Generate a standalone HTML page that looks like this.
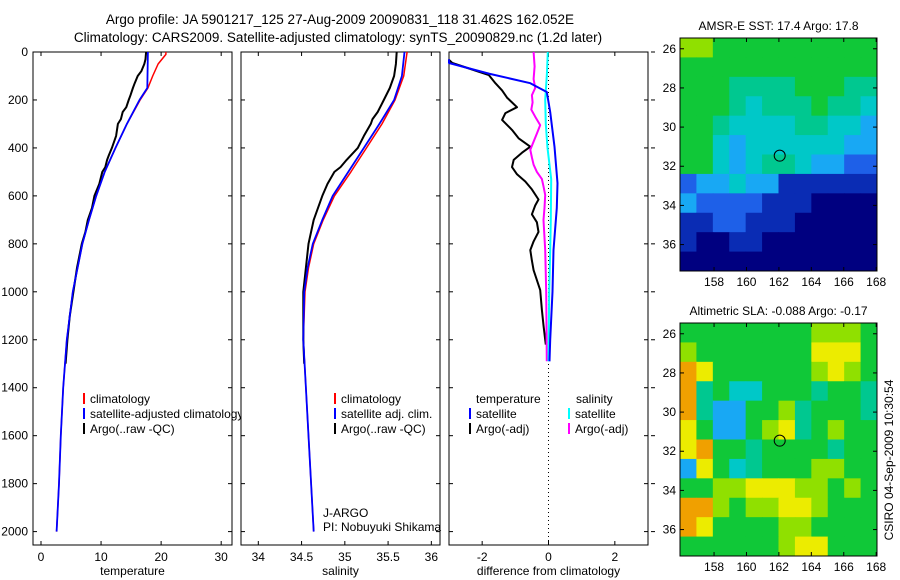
<!DOCTYPE html>
<html><head><meta charset="utf-8"><style>
body{margin:0;background:#fff;}
svg{display:block;font-family:"Liberation Sans",sans-serif;}
</style></head><body>
<svg id="fig" width="900" height="580" viewBox="0 0 900 580">
<rect x="0" y="0" width="900" height="580" fill="#fff"/>
<text x="340" y="24" font-size="13.5" text-anchor="middle">Argo profile: JA 5901217_125 27-Aug-2009 20090831_118 31.462S 162.052E</text>
<text x="338" y="42" font-size="13.5" text-anchor="middle">Climatology: CARS2009. Satellite-adjusted climatology: synTS_20090829.nc (1.2d later)</text>
<g id="plots"></g>
<text transform="translate(893,460) rotate(-90)" font-size="12" text-anchor="middle">CSIRO 04-Sep-2009 10:30:54</text>
</svg>
<script>
// ---- data ----
const depthTicks=[0,200,400,600,800,1000,1200,1400,1600,1800,2000];
const tempTicks=[0,10,20,30];
const salTicks=[34,34.5,35,35.5,36];
const salTickLabels=["34","34.5","35","35.5","36"];
const diffTicks=[-2,0,2];
const latTicks=[-26,-28,-30,-32,-34,-36];
const lonTicks=[158,160,162,164,166,168];

const tClimDepth=[0,10,50,100,150,200,300,400,500,600,700,800,1000,1200,1400,1600,1800,2000];
const tClimVal=[20.8,20.8,19.5,18.6,17.8,16.5,14.3,12.4,10.6,9.2,8.0,6.9,5.3,4.3,3.7,3.3,3.0,2.6];
const tSatDepth=[0,150,200,300,400,500,600,700,800,1000,1200,1400,1600,1800,2000];
const tSatVal=[17.8,17.7,16.4,14.3,12.4,10.6,9.2,8.0,6.9,5.3,4.3,3.7,3.3,3.0,2.6];
const tArgoDepth=[0,30,50,80,100,130,150,180,200,230,250,280,300,350,400,430,450,480,500,550,600,650,700,750,800,900,1000,1100,1200,1300];
const tArgoVal=[17.5,17.4,17.2,16.7,16.1,15.6,15.3,14.9,14.6,14.2,13.6,13.3,12.8,12.5,11.8,11.3,11.0,10.7,10.2,9.7,8.9,8.5,7.8,7.4,6.8,6.0,5.4,4.8,4.4,4.1];

const sClimDepth=[0,100,200,300,400,500,600,700,800,900,1000,1200,1400,1600,1800,2000];
const sClimVal=[35.72,35.68,35.58,35.43,35.25,35.07,34.88,34.75,34.64,34.58,34.54,34.52,34.55,34.58,34.61,34.64];
const sSatDepth=[0,100,200,300,400,500,600,700,800,900,1000,1200,1400,1600,1800,2000];
const sSatVal=[35.69,35.66,35.57,35.40,35.22,35.04,34.86,34.74,34.63,34.57,34.53,34.52,34.55,34.58,34.61,34.64];
const sArgoDepth=[0,50,100,150,200,250,280,300,350,400,450,480,500,550,600,700,800,1000,1200,1300];
const sArgoVal=[35.6,35.59,35.57,35.52,35.45,35.38,35.32,35.3,35.22,35.15,35.02,34.95,34.88,34.8,34.74,34.64,34.58,34.52,34.52,34.53];

const dTSatDepth=[30,46,90,130,167,250,395,547,650,826,1000,1200,1290];
const dTSatVal=[-3,-3,-1.8,-0.55,-0.05,0.05,0.18,0.27,0.25,0.15,0.12,0.05,0.03];
const dTArgoDepth=[33,46,96,130,160,190,230,255,283,325,360,395,420,450,480,510,540,573,615,640,677,710,750,790,826,870,910,993,1076,1140,1200,1220];
const dTArgoVal=[-3,-2.9,-1.8,-1.6,-1.4,-1.25,-0.95,-1.3,-1.4,-1.1,-0.9,-0.55,-0.8,-1.05,-1.1,-0.95,-0.7,-0.5,-0.3,-0.4,-0.5,-0.35,-0.3,-0.45,-0.55,-0.5,-0.45,-0.25,-0.2,-0.15,-0.1,-0.08];
const dSArgoDepth=[0,60,113,150,180,210,240,270,305,340,408,440,470,500,530,560,596,650,700,826,1000,1290];
const dSArgoVal=[-0.45,-0.42,-0.45,-0.4,-0.5,-0.48,-0.52,-0.4,-0.25,-0.35,-0.55,-0.5,-0.45,-0.35,-0.2,-0.15,-0.1,-0.12,-0.15,-0.1,-0.07,-0.05];
const dSSatDepth=[0,100,200,300,400,530,700,826,1000,1290];
const dSSatVal=[-0.02,-0.05,-0.1,-0.08,-0.03,0.08,0.07,0.05,0.02,0.0];

const sstGrid=["776666666666","666666666666","666555566655","666545556554","665444455443","664344444433","664345543322","233433111111","322221110000","112211100000","100110000000","000000000000"];
const slaGrid=["666666667776","766666668886","986666667876","956446665665","953366756665","863367856766","896656666566","386456667766","667788877676","997677887666","986666776666","666666788666"];
const levelColors=["#000080","#0a2cb4","#1e60e8","#18a8f4","#00c8c8","#00c890","#10c838","#90e000","#ecec00","#f0a000"];
const argoLon=[162.05], argoLat=[-31.46];

// ---- helpers ----
const NS="http://www.w3.org/2000/svg";
const root=document.getElementById('plots');
function mk(tag,attrs,parent){const e=document.createElementNS(NS,tag);for(const k in attrs)e.setAttribute(k,attrs[k]);(parent||root).appendChild(e);return e;}
const Y=d=>52+d*0.2398;
const P1={x0:33,x1:232,lo:-1.33,hi:31.8};
const P2={x0:241,x1:440,lo:33.8,hi:36.1};
const P3={x0:449,x1:648,lo:-3,hi:3};
const X=(p,v)=>p.x0+(v-p.lo)*(p.x1-p.x0)/(p.hi-p.lo);
const TOP=52,BOT=545;

function panel(p,name,ticks,labels,xlabel){
  const r=mk('rect',{x:p.x0,y:TOP,width:p.x1-p.x0,height:BOT-TOP,fill:'#fff',stroke:'#000','stroke-width':1});
  
  
  ticks.forEach((t,i)=>{const x=X(p,t);
    mk('line',{x1:x,x2:x,y1:BOT,y2:BOT-4,stroke:'#000'});
    mk('line',{x1:x,x2:x,y1:TOP,y2:TOP+4,stroke:'#000'});
    const tx=mk('text',{x:x,y:BOT+16,'font-size':12,'text-anchor':'middle'});tx.textContent=labels[i];
    
    
  });
  depthTicks.forEach(d=>{mk('line',{x1:p.x0,x2:p.x0+4,y1:Y(d),y2:Y(d),stroke:'#000'});mk('line',{x1:p.x1,x2:p.x1-4,y1:Y(d),y2:Y(d),stroke:'#000'});});
  const xl=mk('text',{x:(p.x0+p.x1)/2,y:575,'font-size':12,'text-anchor':'middle'});xl.textContent=xlabel;
  
  
}
function line(p,dep,val,color,w,name){
  const pts=dep.map((d,i)=>X(p,val[i]).toFixed(1)+','+Y(d).toFixed(1)).join(' ');
  const l=mk('polyline',{points:pts,fill:'none',stroke:color,'stroke-width':w,'stroke-linejoin':'round'});
  
  
}
function legend(x,y,color,label,name){
  mk('rect',{x:x,y:y-10,width:2,height:11,fill:color});
  const t=mk('text',{x:x+7,y:y,'font-size':12});t.textContent=label;
  
  
}

// panel 1 temperature
panel(P1,'temperature-panel',tempTicks,tempTicks.map(String),'temperature');
depthTicks.forEach(d=>{const t=mk('text',{x:28,y:Y(d)+4,'font-size':12,'text-anchor':'end'});t.textContent=d;
  
  });
line(P1,tClimDepth,tClimVal,'#f00',1.5,'temp-climatology-line');
line(P1,tArgoDepth,tArgoVal,'#000',2,'temp-argo-line');
line(P1,tSatDepth,tSatVal,'#00f',1.8,'temp-satellite-line');
legend(83,403,'#f00','climatology','legend-climatology');
legend(83,418,'#00f','satellite-adjusted climatology','legend-satellite-adjusted');
legend(83,433,'#000','Argo(..raw -QC)','legend-argo');

// panel 2 salinity
panel(P2,'salinity-panel',salTicks,salTickLabels,'salinity');
line(P2,sClimDepth,sClimVal,'#f00',1.5,'sal-climatology-line');
line(P2,sArgoDepth,sArgoVal,'#000',2,'sal-argo-line');
line(P2,sSatDepth,sSatVal,'#00f',1.8,'sal-satellite-line');
legend(334,403,'#f00','climatology','legend-sal-climatology');
legend(334,418,'#00f','satellite adj. clim.','legend-sal-satellite');
legend(334,433,'#000','Argo(..raw -QC)','legend-sal-argo');
let t1=mk('text',{x:323,y:517,'font-size':12});t1.textContent='J-ARGO';

let t2=mk('text',{x:323,y:531,'font-size':12});t2.textContent='PI: Nobuyuki Shikama';


// panel 3 differences
panel(P3,'difference-panel',diffTicks,diffTicks.map(String),'difference from climatology');
mk('line',{x1:X(P3,0),x2:X(P3,0),y1:TOP,y2:BOT,stroke:'#000','stroke-dasharray':'1,3'});
line(P3,dTArgoDepth,dTArgoVal,'#000',2,'diff-temp-argo-line');
line(P3,dSArgoDepth,dSArgoVal,'#f0f',2,'diff-sal-argo-line');
line(P3,dSSatDepth,dSSatVal,'#0ff',2,'diff-sal-satellite-line');
line(P3,dTSatDepth,dTSatVal,'#00f',2,'diff-temp-satellite-line');
let h1=mk('text',{x:476,y:403,'font-size':12});h1.textContent='temperature';

let h2=mk('text',{x:576,y:403,'font-size':12});h2.textContent='salinity';

legend(469,418,'#00f','satellite','legend-diff-temp-satellite');
legend(469,433,'#000','Argo(-adj)','legend-diff-temp-argo');
legend(568,418,'#0ff','satellite','legend-diff-sal-satellite');
legend(568,433,'#f0f','Argo(-adj)','legend-diff-sal-argo');
depthTicks.forEach(d=>mk('line',{x1:651,x2:655,y1:Y(d),y2:Y(d),stroke:'#000'}));

// maps
function map(y0,y1,grid,name,title){
  const M={x0:680,x1:877,y0:y0,y1:y1,lon0:155.9,lon1:168.05,lat0:-25.45,lat1:-37.35};
  const lx=v=>M.x0+(v-M.lon0)*(M.x1-M.x0)/(M.lon1-M.lon0);
  const ly=v=>M.y0+(v-M.lat0)*(M.y1-M.y0)/(M.lat1-M.lat0);
  const g=mk('g',{});
  
  
  const rows=grid.length,cols=grid[0].length,cw=(M.x1-M.x0)/cols,ch=(M.y1-M.y0)/rows;
  grid.forEach((row,r)=>{for(let c=0;c<cols;c++){
    mk('rect',{x:M.x0+c*cw,y:M.y0+r*ch,width:cw+0.5,height:ch+0.5,fill:levelColors[+row[c]]},g);}});
  mk('rect',{x:M.x0,y:M.y0,width:M.x1-M.x0,height:M.y1-M.y0,fill:'none',stroke:'#000'},g);
  latTicks.forEach(v=>{const y=ly(v);mk('line',{x1:M.x0,x2:M.x0+4,y1:y,y2:y,stroke:'#000'},g);mk('line',{x1:M.x1,x2:M.x1-4,y1:y,y2:y,stroke:'#000'},g);
    const t=mk('text',{x:M.x0-4,y:y+4,'font-size':12,'text-anchor':'end'},g);t.textContent=Math.abs(v);
    });
  lonTicks.forEach(v=>{const x=lx(v);mk('line',{x1:x,x2:x,y1:M.y1,y2:M.y1-4,stroke:'#000'},g);mk('line',{x1:x,x2:x,y1:M.y0,y2:M.y0+4,stroke:'#000'},g);
    const t=mk('text',{x:x,y:M.y1+15,'font-size':12,'text-anchor':'middle'},g);t.textContent=v;
    });
  const c=mk('circle',{cx:lx(argoLon[0]),cy:ly(argoLat[0]),r:5.5,fill:'none',stroke:'#000'},g);
  
  
  const tt=mk('text',{x:(M.x0+M.x1)/2,y:M.y0-8,'font-size':12,'text-anchor':'middle'},g);tt.textContent=title;
  
}
map(38,271,sstGrid,'sst-map','AMSR-E SST: 17.4  Argo: 17.8');
map(323,556,slaGrid,'sla-map','Altimetric SLA: -0.088  Argo: -0.17');
</script>
</body></html>
